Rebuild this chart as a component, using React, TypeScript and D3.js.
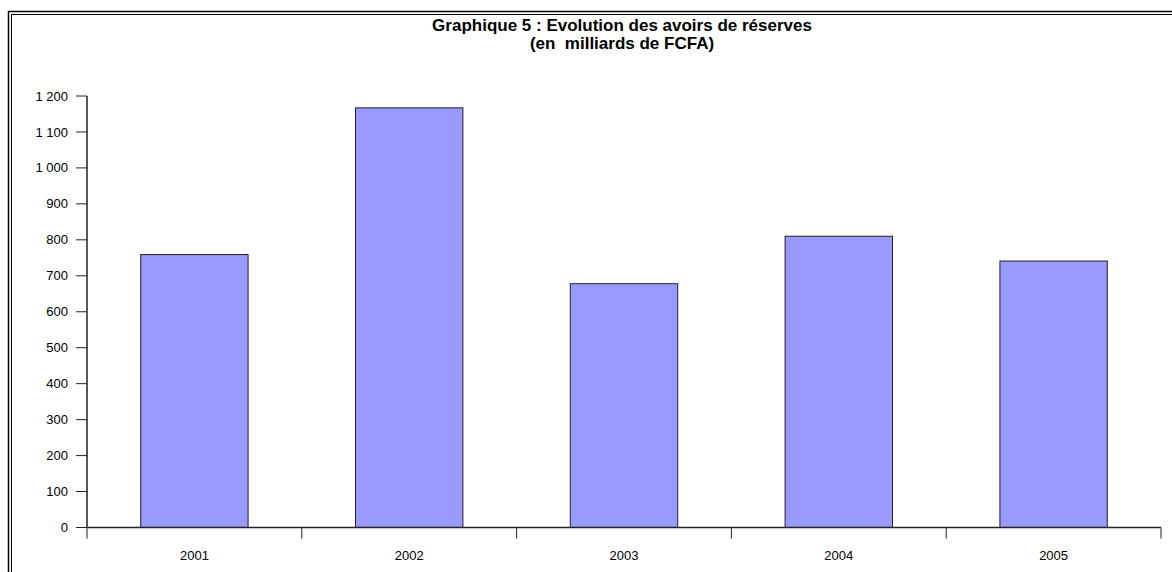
import React from "react";
import * as d3 from "d3";

const years = ["2001", "2002", "2003", "2004", "2005"];
const reserves = [759, 1167, 678, 810, 741];
const yTicks = [0, 100, 200, 300, 400, 500, 600, 700, 800, 900, 1000, 1100, 1200];
const titleLines = ["Graphique 5 : Evolution des avoirs de réserves", "(en\u00a0\u00a0milliards de FCFA)"];

const W = 1172;
const H = 572;
const M = { left: 87, right: 1161, top: 96, bottom: 527.5 };

const fmt = (v: number) => (v >= 1000 ? `${Math.floor(v / 1000)} ${String(v % 1000).padStart(3, "0")}` : String(v));

export default function App() {
  const x = d3.scaleBand<string>().domain(years).range([M.left, M.right]).paddingInner(0.5).paddingOuter(0.25);
  const xb = d3.scaleBand<string>().domain(years).range([M.left, M.right]);
  const y = d3.scaleLinear().domain([0, 1200]).range([M.bottom, M.top]);
  const font = "'Liberation Sans', Arial, sans-serif";
  return (
    <svg width={W} height={H} style={{ position: "absolute", left: 0, top: 0 }} fontFamily={font}>
      <rect x={0} y={0} width={W} height={H} fill="#fff" />
      <rect x={8.5} y={11.5} width={W + 20} height={H + 20} fill="none" stroke="#000" strokeWidth={1.5} />
      <rect x={11.5} y={14.5} width={W + 20} height={H + 20} fill="none" stroke="#000" strokeWidth={1} />
      {titleLines.map((t, i) => (
        <text key={i} x={622} y={31 + i * 18} textAnchor="middle" fontWeight="bold" fontSize={17} fill="#000">
          {t}
        </text>
      ))}
      {years.map((yr, i) => (
        <rect
          key={yr}
          x={x(yr)}
          y={y(reserves[i])}
          width={x.bandwidth()}
          height={y(0) - y(reserves[i])}
          fill="#9999FF"
          stroke="#222"
          strokeWidth={1}
        />
      ))}
      <line x1={M.left} x2={M.left} y1={M.top} y2={M.bottom} stroke="#222" strokeWidth={1.5} />
      <line x1={M.left} x2={M.right} y1={M.bottom} y2={M.bottom} stroke="#222" strokeWidth={1.5} />
      {yTicks.map((t) => (
        <g key={t}>
          <line x1={76} x2={M.left} y1={y(t)} y2={y(t)} stroke="#222" strokeWidth={1} />
          <text x={68} y={y(t)} dy="0.35em" textAnchor="end" fontSize={13} fill="#000">
            {fmt(t)}
          </text>
        </g>
      ))}
      {[...years.map((yr) => xb(yr) as number), M.right].map((bx, i) => (
        <line key={i} x1={bx} x2={bx} y1={M.bottom} y2={M.bottom + 11} stroke="#222" strokeWidth={1} />
      ))}
      {years.map((yr) => (
        <text key={yr} x={(xb(yr) as number) + xb.bandwidth() / 2} y={560} textAnchor="middle" fontSize={13} fill="#000">
          {yr}
        </text>
      ))}
    </svg>
  );
}
